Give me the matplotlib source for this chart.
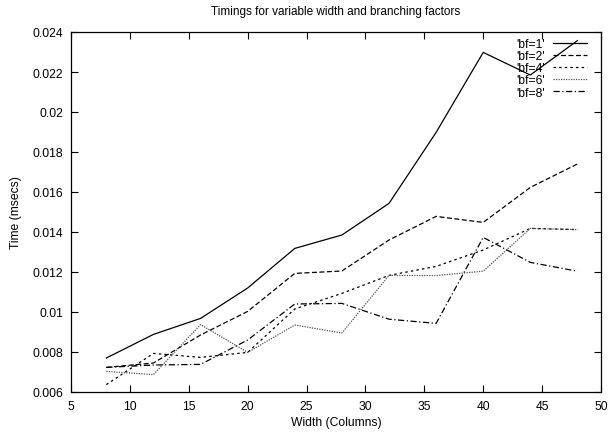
import numpy as np
import matplotlib
matplotlib.use('Agg')
import matplotlib.pyplot as plt

plt.rcParams.update({'font.size': 8.7, 'font.family': 'Liberation Sans'})

width = [8, 12, 16, 20, 24, 28, 32, 36, 40, 44, 48]
bf1 = [0.0077, 0.00888, 0.00968, 0.0112, 0.01318, 0.01385, 0.01543, 0.01898, 0.02298, 0.02185, 0.02357]
bf2 = [0.00723, 0.00745, 0.00885, 0.01003, 0.01193, 0.01205, 0.0136, 0.01478, 0.01448, 0.01623, 0.0174]
bf4 = [0.00637, 0.00793, 0.00773, 0.00798, 0.01015, 0.01093, 0.01183, 0.01228, 0.0131, 0.01418, 0.01412]
bf6 = [0.00703, 0.00687, 0.00937, 0.00798, 0.00935, 0.00895, 0.01183, 0.01182, 0.01204, 0.01418, 0.01412]
bf8 = [0.00723, 0.00735, 0.00738, 0.0086, 0.0104, 0.01043, 0.00964, 0.00943, 0.01373, 0.01248, 0.01204]
labels = ["'bf=1'", "'bf=2'", "'bf=4'", "'bf=6'", "'bf=8'"]

fig = plt.figure(figsize=(6.08, 4.35), dpi=100)
# frame: x 71..601 px, y 33..393 px
ax = fig.add_axes([71/608, 42/435, 530/608, 360/435])

styles = [
    dict(color='black', linestyle='-'),
    dict(color='black', linestyle=(0, (4, 2))),
    dict(color='black', linestyle=(0, (2, 2.5))),
    dict(color='#555555', linestyle=(0, (1, 1))),
    dict(color='black', linestyle=(0, (5, 2, 1, 2))),
]
for ys, lab, st in zip([bf1, bf2, bf4, bf6, bf8], labels, styles):
    ax.plot(width, ys, linewidth=0.9, label=lab, **st)

ax.set_xlim(5, 50)
ax.set_ylim(0.006, 0.024)
ax.set_xticks(np.arange(5, 51, 5))
yt = np.arange(0.006, 0.0241, 0.002)
ax.set_yticks(yt)
ax.set_yticklabels(['%g' % round(v, 3) for v in yt])
ax.tick_params(direction='in', length=5, width=0.8, top=True, right=True)
ax.tick_params(axis='x', pad=5.5)
ax.tick_params(axis='y', pad=5.5)
for s in ax.spines.values():
    s.set_linewidth(0.9)

ax.set_xlabel('Width (Columns)', labelpad=3.5)
ax.set_ylabel('Time (msecs)', labelpad=8)
ax.set_title('Timings for variable width and branching factors', pad=13, fontsize=8.5)

ax.legend(loc='upper right', bbox_to_anchor=(0.9736, 0.984), frameon=False,
          markerfirst=False, handlelength=2.8, handletextpad=0.67,
          labelspacing=0.02, borderaxespad=0, borderpad=0)

fig.savefig('out.png', dpi=100)
